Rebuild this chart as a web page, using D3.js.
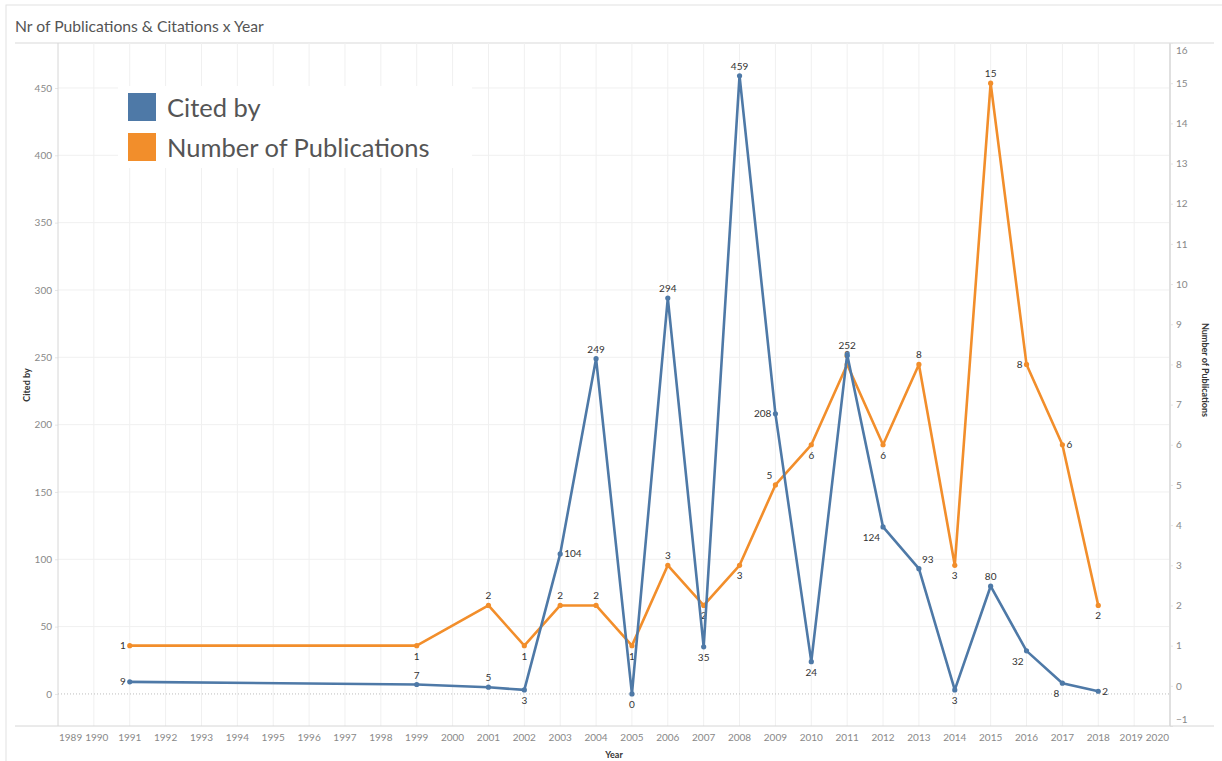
<!DOCTYPE html>
<html>
<head>
<meta charset="utf-8">
<script src="https://cdn.jsdelivr.net/npm/d3@7"></script>
<style>
  body { margin: 0; background: #fff; }
  text { font-family: Lato, "Open Sans", sans-serif; }
</style>
</head>
<body>
<script>
var w = 1222;
var h = 761;

// ---- data ----
var years = [1991, 1999, 2001, 2002, 2003, 2004, 2005, 2006, 2007, 2008,
             2009, 2010, 2011, 2012, 2013, 2014, 2015, 2016, 2017, 2018];
var citedBy = [9, 7, 5, 3, 104, 249, 0, 294, 35, 459,
               208, 24, 252, 124, 93, 3, 80, 32, 8, 2];
var publications = [1, 1, 2, 1, 2, 2, 1, 3, 2, 3,
                    5, 6, 8, 6, 8, 3, 15, 8, 6, 2];
// where each value label sits relative to its point
var citedPos = ["l", "t", "t", "b", "r", "t", "b", "t", "b", "t",
                "l", "b", "t", "bl", "tr", "b", "t", "bl", "bl", "r"];
var pubPos = ["l", "b", "t", "b", "t", "t", "b", "t", "b", "b",
              "tl", "b", "t", "b", "t", "b", "t", "l", "r", "b"];
var yearTicks = d3.range(1989, 2021);
var citedTicks = d3.range(0, 451, 50);
var pubTicks = d3.range(-1, 17);

var blue = "#4e79a7";
var orange = "#f28e2b";

var plotL = 58, plotR = 1170, plotT = 43, plotB = 726;

var x = d3.scaleLinear().domain([1989, 2020]).range([plotL, plotR]);
var yL = d3.scaleLinear().domain([-23.8, 483.4]).range([plotB, plotT]);
var yR = d3.scaleLinear().domain([-1, 16]).range([plotB, plotT]);

var svg = d3.select("body").append("svg")
    .attr("width", w)
    .attr("height", h);

//---frame-----
svg.append("rect")
    .attr("x", 6).attr("y", 5)
    .attr("width", w).attr("height", h)
    .attr("fill", "none")
    .attr("stroke", "#e2e2e2");

svg.append("text")
    .text("Nr of Publications & Citations x Year")
    .attr("x", 15).attr("y", 32)
    .attr("font-size", 15.7)
    .attr("fill", "#555");

svg.append("line")
    .attr("x1", 15).attr("x2", 1214)
    .attr("y1", plotT).attr("y2", plotT)
    .attr("stroke", "#d9d9d9");

//---grid-----
svg.append("g").selectAll("line")
    .data(yearTicks.slice(1, -1))
    .join("line")
    .attr("x1", d => x(d)).attr("x2", d => x(d))
    .attr("y1", plotT).attr("y2", plotB)
    .attr("stroke", "#f0f0f0");

svg.append("g").selectAll("line")
    .data(citedTicks.slice(1))
    .join("line")
    .attr("x1", plotL).attr("x2", plotR)
    .attr("y1", d => yL(d)).attr("y2", d => yL(d))
    .attr("stroke", "#f0f0f0");

svg.append("line")
    .attr("x1", plotL).attr("x2", plotR)
    .attr("y1", yL(0)).attr("y2", yL(0))
    .attr("stroke", "#bdbdbd")
    .attr("stroke-dasharray", "1,2");

//---axes-----
var leftAxis = svg.append("g")
    .attr("transform", "translate(" + plotL + ",0)")
    .call(d3.axisLeft(yL).tickValues(citedTicks).tickSize(3).tickPadding(3));
leftAxis.select(".domain").remove();
leftAxis.selectAll("line").attr("stroke", "#e6e6e6");
leftAxis.selectAll("text").attr("font-size", 10).attr("fill", "#888")
    .attr("font-family", "Lato, sans-serif");

svg.append("line")
    .attr("x1", plotL).attr("x2", plotL)
    .attr("y1", plotT).attr("y2", plotB)
    .attr("stroke", "#d6d6d6");

var rightAxis = svg.append("g")
    .attr("transform", "translate(" + plotR + ",0)")
    .call(d3.axisRight(yR).tickValues(pubTicks).tickSize(3).tickPadding(3));
rightAxis.select(".domain").remove();
rightAxis.selectAll("line").attr("stroke", "#e6e6e6");
rightAxis.selectAll("text").attr("font-size", 10).attr("fill", "#888")
    .attr("font-family", "Lato, sans-serif");
// keep the edge labels inside the plot
rightAxis.selectAll(".tick").filter(d => d == 16).select("text").attr("dy", "1.05em");
rightAxis.selectAll(".tick").filter(d => d == -1).select("text").attr("dy", "-0.35em");

svg.append("line")
    .attr("x1", plotR).attr("x2", plotR)
    .attr("y1", plotT).attr("y2", plotB)
    .attr("stroke", "#e0e0e0")
    .attr("stroke-width", 2);

svg.append("line")
    .attr("x1", 15).attr("x2", 1214)
    .attr("y1", plotB).attr("y2", plotB)
    .attr("stroke", "#d6d6d6");

var yearLabels = svg.append("g").selectAll("text")
    .data(yearTicks)
    .join("text")
    .text(d => d)
    .attr("x", d => x(d))
    .attr("y", 741)
    .attr("text-anchor", "middle")
    .attr("font-size", 10)
    .attr("fill", "#888");

// squeeze the edge years inside the axis like Tableau does
var lw = yearLabels.nodes().map(n => n.getComputedTextLength());
yearLabels.filter(d => d == 1989).attr("text-anchor", "start").attr("x", plotL + 1);
yearLabels.filter(d => d == 1990).attr("text-anchor", "start").attr("x", plotL + 1 + lw[0] + 3);
yearLabels.filter(d => d == 2020).attr("text-anchor", "end").attr("x", plotR - 1);
yearLabels.filter(d => d == 2019).attr("text-anchor", "end").attr("x", plotR - 1 - lw[lw.length - 1] - 3);

//---axis titles-----
svg.append("text")
    .text("Year")
    .attr("x", 614).attr("y", 758)
    .attr("text-anchor", "middle")
    .attr("font-size", 9).attr("font-weight", "bold")
    .attr("fill", "#333");

svg.append("text")
    .text("Cited by")
    .attr("transform", "translate(30,385) rotate(-90)")
    .attr("text-anchor", "middle")
    .attr("font-size", 9).attr("font-weight", "bold")
    .attr("fill", "#333");

svg.append("text")
    .text("Number of Publications")
    .attr("transform", "translate(1202,370) rotate(90)")
    .attr("text-anchor", "middle")
    .attr("font-size", 9).attr("font-weight", "bold")
    .attr("fill", "#333");

//---lines-----
function drawSeries(values, yScale, color, pos) {
    var pts = years.map((d, i) => [x(d), yScale(values[i])]);
    svg.append("path")
        .attr("d", d3.line()(pts))
        .attr("fill", "none")
        .attr("stroke", color)
        .attr("stroke-width", 2.6)
        .attr("stroke-linejoin", "round");

    svg.append("g").selectAll("circle")
        .data(pts)
        .join("circle")
        .attr("cx", d => d[0]).attr("cy", d => d[1])
        .attr("r", 2.6)
        .attr("fill", color);

    svg.append("g").selectAll("text")
        .data(pts)
        .join("text")
        .text((d, i) => values[i])
        .attr("x", (d, i) => {
            var p = pos[i];
            if (p == "l") return d[0] - 4;
            if (p == "r") return d[0] + 4;
            if (p == "bl" || p == "tl") return d[0] - 3;
            if (p == "tr") return d[0] + 3;
            return d[0];
        })
        .attr("y", (d, i) => {
            var p = pos[i];
            if (p == "t" || p == "tr" || p == "tl") return d[1] - 6;
            if (p == "b" || p == "bl") return d[1] + 14;
            return d[1] + 3.5;
        })
        .attr("text-anchor", (d, i) => {
            var p = pos[i];
            if (p == "l" || p == "bl" || p == "tl") return "end";
            if (p == "r" || p == "tr") return "start";
            return "middle";
        })
        .attr("font-size", 10)
        .attr("fill", "#333");
}

drawSeries(publications, yR, orange, pubPos);
drawSeries(citedBy, yL, blue, citedPos);

//---legend-----
svg.append("rect")
    .attr("x", 118).attr("y", 86)
    .attr("width", 354).attr("height", 82)
    .attr("fill", "#fff");

var legend = [["Cited by", blue], ["Number of Publications", orange]];
legend.forEach(function (d, i) {
    svg.append("rect")
        .attr("x", 128).attr("y", 93 + i * 40)
        .attr("width", 28).attr("height", 28)
        .attr("fill", d[1]);
    svg.append("text")
        .text(d[0])
        .attr("x", 167).attr("y", 117 + i * 40)
        .attr("font-size", 25.5)
        .attr("fill", "#555");
});
</script>
</body>
</html>
